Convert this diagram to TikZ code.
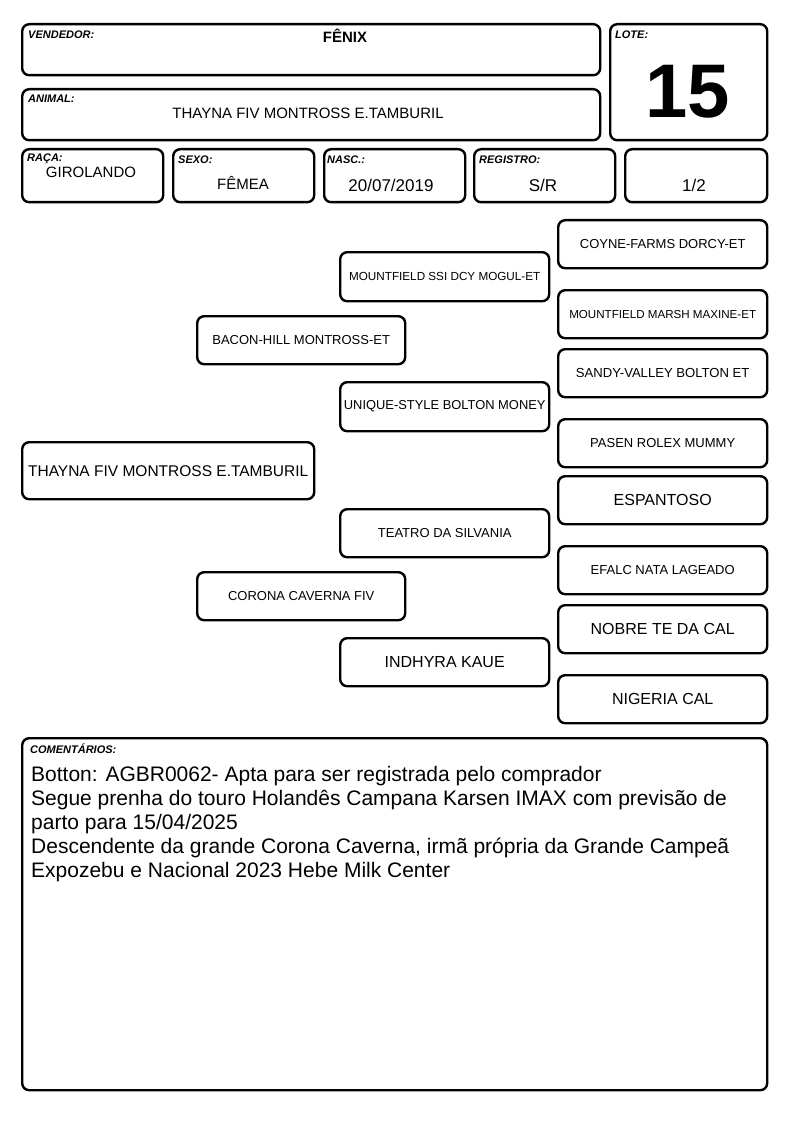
\documentclass[tikz,border=0pt]{standalone}
\usepackage{fontspec}
\setmainfont{Liberation Sans}
\begin{document}
\begin{tikzpicture}[x=1pt,y=-1pt,
  box/.style={draw=black,line width=2.4pt,rounded corners=7pt,anchor=north west,inner sep=0pt,align=center},
  lbl/.style={anchor=north west,inner sep=0pt,font=\fontsize{11}{12}\selectfont\bfseries\itshape},
  val/.style={inner sep=0pt,anchor=base},
  fs/.style={font=\fontsize{#1}{#1}\selectfont}]
\useasboundingbox (0,0) rectangle (794,1123);
% header boxes
\node[box,minimum width=578pt,minimum height=51pt] (vend) at (21,23) {};
\node[box,minimum width=157pt,minimum height=116pt] (lote) at (609,23) {};
\node[box,minimum width=578pt,minimum height=51pt] (anim) at (21,88) {};
\node[box,minimum width=141pt,minimum height=53pt] (raca) at (21,148) {};
\node[box,minimum width=141pt,minimum height=53pt] (sexo) at (172,148) {};
\node[box,minimum width=141pt,minimum height=53pt] (nasc) at (323,148) {};
\node[box,minimum width=141pt,minimum height=53pt] (reg) at (473,148) {};
\node[box,minimum width=142pt,minimum height=53pt] (frac) at (624,148) {};
\node[lbl] (lvend) at (28,31) {VENDEDOR:};
\node[lbl] (llote) at (615,31) {LOTE:};
\node[lbl] (lanim) at (28,95) {ANIMAL:};
\node[lbl] (lraca) at (27,154) {RAÇA:};
\node[lbl] (lsexo) at (178,156) {SEXO:};
\node[lbl] (lnasc) at (327,156) {NASC.:};
\node[lbl] (lreg) at (479,156) {REGISTRO:};
\node[val,font=\fontsize{15}{15}\selectfont\bfseries] (vvend) at (345,43) {FÊNIX};
\node[val,font=\fontsize{76}{76}\selectfont\bfseries] (vlote) at (688,118) {15};
\node[val,fs=15] (vanim) at (308,119) {THAYNA FIV MONTROSS E.TAMBURIL};
\node[val,fs=15] (vraca) at (91,178) {GIROLANDO};
\node[val,fs=15] (vsexo) at (243,190) {FÊMEA};
\node[val,fs=17] (vnasc) at (391,192) {20/07/2019};
\node[val,fs=17] (vreg) at (543,192) {S/R};
\node[val,fs=17] (vfrac) at (694,192) {1/2};
% pedigree
\node[box,minimum width=209pt,minimum height=48pt,fs=13] (p1) at (557,219) {COYNE-FARMS DORCY-ET};
\node[box,minimum width=209pt,minimum height=49pt,fs=11.7] (p2) at (339,251) {MOUNTFIELD SSI DCY MOGUL-ET};
\node[box,minimum width=209pt,minimum height=48pt,fs=11.6] (p3) at (557,289) {MOUNTFIELD MARSH MAXINE-ET};
\node[box,minimum width=208pt,minimum height=48pt,fs=13] (p4) at (196,315) {BACON-HILL MONTROSS-ET};
\node[box,minimum width=209pt,minimum height=48pt,fs=13.1] (p5) at (557,348) {SANDY-VALLEY BOLTON ET};
\node[box,minimum width=209pt,minimum height=49pt,fs=12.9] (p6) at (339,381) {UNIQUE-STYLE BOLTON MONEY};
\node[box,minimum width=209pt,minimum height=48pt,fs=13] (p7) at (557,418) {PASEN ROLEX MUMMY};
\node[box,minimum width=292pt,minimum height=57pt,fs=15.5] (p8) at (21,441) {THAYNA FIV MONTROSS E.TAMBURIL};
\node[box,minimum width=209pt,minimum height=48pt,fs=16] (p9) at (557,475) {ESPANTOSO};
\node[box,minimum width=209pt,minimum height=48pt,fs=13] (p10) at (339,508) {TEATRO DA SILVANIA};
\node[box,minimum width=209pt,minimum height=48pt,fs=13] (p11) at (557,545) {EFALC NATA LAGEADO};
\node[box,minimum width=208pt,minimum height=48pt,fs=13] (p12) at (196,571) {CORONA CAVERNA FIV};
\node[box,minimum width=209pt,minimum height=48pt,fs=16] (p13) at (557,604) {NOBRE TE DA CAL};
\node[box,minimum width=209pt,minimum height=48pt,fs=16] (p14) at (339,637) {INDHYRA KAUE};
\node[box,minimum width=209pt,minimum height=48pt,fs=16] (p15) at (557,674) {NIGERIA CAL};
% comments
\node[box,minimum width=745pt,minimum height=352pt] (com) at (21,737) {};
\node[lbl,font=\fontsize{11}{12}\selectfont\bfseries\itshape] (lcom) at (30,744) {COMENTÁRIOS:};
\node[anchor=north west,inner sep=0pt,align=left,font=\fontsize{21}{24}\selectfont] (tcom) at (31,766)
 {Botton: AGBR0062- Apta para ser registrada pelo comprador\\
  Segue prenha do touro Holandês Campana Karsen IMAX com previsão de\\
  parto para 15/04/2025\\
  Descendente da grande Corona Caverna, irmã própria da Grande Campeã\\
  Expozebu e Nacional 2023 Hebe Milk Center};
\end{tikzpicture}
\end{document}
